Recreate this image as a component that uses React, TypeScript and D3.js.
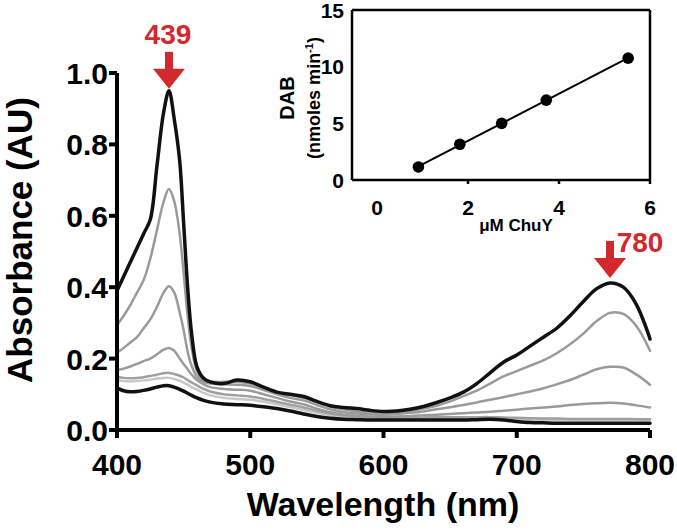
import React from "react";
import * as d3 from "d3";

const wavelengths = [400,405,410,415,420,425,430,435,439,443,447,450,453,456,460,465,470,480,490,500,510,520,530,540,550,560,570,580,590,600,610,620,630,640,650,660,670,680,690,700,710,720,730,740,750,760,770,780,790,800];

const specTop = [.39,.43,.47,.51,.55,.59,.74,.89,.95,.87,.756,.58,.40,.27,.177,.145,.135,.13,.14,.135,.12,.106,.10,.094,.08,.068,.063,.06,.055,.052,.053,.058,.066,.077,.09,.106,.13,.16,.19,.21,.235,.26,.285,.32,.36,.396,.412,.40,.35,.255];
const specG1 = [.294,.32,.35,.385,.42,.48,.56,.64,.675,.64,.55,.44,.32,.23,.165,.14,.135,.135,.135,.13,.118,.105,.098,.09,.078,.066,.058,.052,.048,.047,.049,.053,.06,.068,.08,.095,.11,.13,.15,.165,.18,.195,.215,.24,.27,.305,.328,.325,.29,.222];
const specG2 = [.217,.23,.245,.26,.285,.31,.345,.385,.403,.385,.33,.28,.22,.18,.15,.135,.13,.128,.127,.123,.112,.1,.09,.083,.07,.058,.05,.046,.044,.043,.045,.048,.052,.058,.064,.07,.077,.085,.092,.1,.108,.117,.128,.14,.155,.17,.177,.175,.155,.127];
const specG3 = [.168,.172,.178,.185,.193,.2,.212,.225,.23,.222,.2,.185,.17,.155,.14,.128,.12,.115,.113,.11,.1,.09,.08,.072,.06,.05,.043,.04,.038,.037,.038,.039,.041,.043,.045,.047,.049,.051,.054,.057,.06,.063,.066,.07,.073,.075,.076,.074,.069,.063];
const specG4 = [.149,.146,.145,.146,.148,.151,.155,.159,.16,.157,.152,.147,.14,.133,.125,.115,.108,.1,.097,.094,.087,.079,.071,.063,.054,.046,.041,.038,.036,.035,.035,.035,.035,.036,.036,.036,.036,.036,.035,.034,.033,.032,.032,.031,.031,.031,.031,.031,.03,.03];
const specG5 = [.14,.137,.136,.137,.139,.141,.144,.146,.146,.143,.138,.133,.127,.12,.113,.104,.097,.09,.087,.085,.079,.072,.064,.056,.048,.041,.036,.034,.033,.032,.032,.032,.032,.032,.032,.032,.032,.032,.031,.03,.029,.028,.028,.028,.028,.028,.028,.028,.028,.028];
const specBottom = [.118,.11,.107,.108,.111,.115,.12,.124,.124,.12,.114,.109,.103,.097,.09,.083,.078,.073,.071,.069,.065,.06,.053,.045,.038,.033,.03,.029,.028,.028,.028,.028,.028,.028,.028,.028,.029,.03,.028,.024,.021,.02,.019,.019,.019,.019,.019,.019,.019,.019];

const xTicks = [400, 500, 600, 700, 800];
const yTicks = [0, 0.2, 0.4, 0.6, 0.8, 1.0];

const peakLabels = ["439", "780"];
const peakWavelengths = [439, 770];
const peakValues = [0.95, 0.412];

const insetConc = [0.91, 1.82, 2.74, 3.72, 5.52];
const insetRate = [1.15, 3.15, 5.0, 7.05, 10.75];
const insetXTicks = [0, 2, 4, 6];
const insetYTicks = [0, 5, 10, 15];

const FONT = "'Liberation Sans', Arial, Helvetica, sans-serif";
const RED = "#d3282c";

export default function App() {
  const x = d3.scaleLinear().domain([400, 800]).range([117, 650]);
  const y = d3.scaleLinear().domain([0, 1]).range([430, 73]);

  const line = d3
    .line<number>()
    .x((_, i) => x(wavelengths[i]))
    .y((d) => y(d))
    .curve(d3.curveCatmullRom.alpha(0.5));

  const series = [
    { v: specG5, c: "#c8c8c8", w: 2.5 },
    { v: specG4, c: "#a0a0a0", w: 2.5 },
    { v: specG3, c: "#9a9a9a", w: 2.5 },
    { v: specG2, c: "#9a9a9a", w: 2.5 },
    { v: specG1, c: "#9a9a9a", w: 2.5 },
    { v: specBottom, c: "#111", w: 3.5 },
    { v: specTop, c: "#111", w: 3.5 },
  ];

  // inset
  const xI = d3.scaleLinear().domain([0, 6]).range([377, 650]);
  const yI = d3.scaleLinear().domain([0, 15]).range([180, 10]);
  const insetLeft = 352;
  const n = insetConc.length;
  const mx = d3.mean(insetConc)!;
  const my = d3.mean(insetRate)!;
  let sxy = 0, sxx = 0;
  for (let i = 0; i < n; i++) {
    sxy += (insetConc[i] - mx) * (insetRate[i] - my);
    sxx += (insetConc[i] - mx) ** 2;
  }
  const slope = sxy / sxx;
  const icpt = my - slope * mx;
  const x0 = insetConc[0];
  const x1 = insetConc[n - 1];

  return (
    <svg
      width={677}
      height={531}
      style={{ position: "absolute", left: 0, top: 0, background: "#fff" }}
      fontFamily={FONT}
    >
      <rect width={677} height={531} fill="#fff" />
      {/* spectra */}
      {series.map((s, i) => (
        <path
          key={i}
          d={line(s.v) || ""}
          fill="none"
          stroke={s.c}
          strokeWidth={s.w}
          strokeLinejoin="round"
          strokeLinecap="round"
        />
      ))}

      {/* main axes */}
      <line x1={117} x2={117} y1={y(1)} y2={y(0) + 2} stroke="#000" strokeWidth={4} />
      <line x1={115} x2={x(800)} y1={y(0)} y2={y(0)} stroke="#000" strokeWidth={4} />
      {yTicks.map((t) => (
        <g key={t}>
          <line x1={109} x2={117} y1={y(t)} y2={y(t)} stroke="#000" strokeWidth={4} />
          <text
            x={108}
            y={y(t) + 11}
            textAnchor="end"
            fontSize={30}
            fontWeight="bold"
          >
            {t.toFixed(1)}
          </text>
        </g>
      ))}
      {xTicks.map((t) => (
        <g key={t}>
          <line x1={x(t)} x2={x(t)} y1={y(0)} y2={y(0) + 8} stroke="#000" strokeWidth={4} />
          <text x={x(t)} y={475} textAnchor="middle" fontSize={30} fontWeight="bold">
            {t}
          </text>
        </g>
      ))}
      <text
        x={383}
        y={516}
        textAnchor="middle"
        fontSize={34}
        fontWeight="bold"
      >
        Wavelength (nm)
      </text>
      <text
        transform={`translate(32,${240}) rotate(-90)`}
        textAnchor="middle"
        fontSize={35}
        fontWeight="bold"
      >
        Absorbance (AU)
      </text>

      {/* red arrows */}
      {peakLabels.map((lab, i) => {
        const tx = x(peakWavelengths[i]);
        const ty = y(peakValues[i]) - (i === 0 ? 2 : 5);
        return (
          <g key={lab} fill={RED}>
            <rect x={tx - 4} y={ty - 37} width={8} height={19} />
            <path d={`M${tx - 16},${ty - 20} L${tx + 16},${ty - 20} L${tx},${ty} Z`} />
            <text
              x={i === 0 ? tx - 1 : tx + 30}
              y={i === 0 ? ty - 45 : ty - 26}
              textAnchor="middle"
              fontSize={28}
              fontWeight="bold"
            >
              {lab}
            </text>
          </g>
        );
      })}

      {/* inset */}
      <g>
        <line x1={insetLeft} x2={650} y1={yI(15)} y2={yI(15)} stroke="#000" strokeWidth={2.5} />
        <line x1={650} x2={650} y1={yI(15)} y2={yI(0)} stroke="#000" strokeWidth={2.5} />
        <line x1={insetLeft} x2={insetLeft} y1={yI(15)} y2={yI(0)} stroke="#000" strokeWidth={2.5} />
        <line x1={insetLeft} x2={651} y1={yI(0)} y2={yI(0)} stroke="#000" strokeWidth={2.5} />
        {insetYTicks.map((t) => (
          <text
            key={t}
            x={344}
            y={yI(t) + 7.5}
            textAnchor="end"
            fontSize={21}
            fontWeight="bold"
          >
            {t}
          </text>
        ))}
        {insetXTicks.map((t) => (
          <g key={t}>
            {t > 0 && (
              <line x1={xI(t)} x2={xI(t)} y1={yI(0)} y2={yI(0) + 4} stroke="#000" strokeWidth={2.5} />
            )}
            <text x={xI(t)} y={215} textAnchor="middle" fontSize={21} fontWeight="bold">
              {t}
            </text>
          </g>
        ))}
        <line
          x1={xI(x0)}
          y1={yI(slope * x0 + icpt)}
          x2={xI(x1)}
          y2={yI(slope * x1 + icpt)}
          stroke="#000"
          strokeWidth={2}
        />
        {insetConc.map((c, i) => (
          <circle key={i} cx={xI(c)} cy={yI(insetRate[i])} r={5.8} fill="#000" />
        ))}
        <text x={516} y={231} textAnchor="middle" fontSize={17} fontWeight="bold">
          μM ChuY
        </text>
        <text
          transform={`translate(294,${98}) rotate(-90)`}
          textAnchor="middle"
          fontSize={20}
          fontWeight="bold"
        >
          DAB
        </text>
        <text
          transform={`translate(320,${98}) rotate(-90)`}
          textAnchor="middle"
          fontSize={18}
          fontWeight="bold"
        >
          (nmoles min
          <tspan fontSize={11} dy={-7}>-1</tspan>
          <tspan dy={7}>)</tspan>
        </text>
      </g>
    </svg>
  );
}
